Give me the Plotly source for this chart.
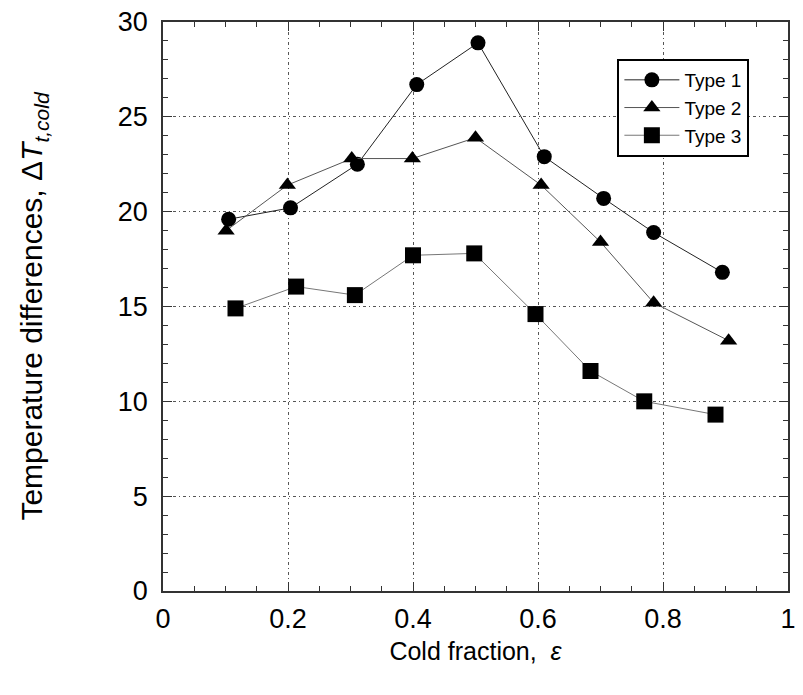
import plotly.graph_objects as go

# Cold fraction (epsilon) and temperature differences for each type
type1_x = [0.105, 0.204, 0.311, 0.406, 0.504, 0.610, 0.705, 0.785, 0.895]
type1_y = [19.6, 20.2, 22.5, 26.7, 28.9, 22.9, 20.7, 18.9, 16.8]

type2_x = [0.101, 0.199, 0.302, 0.399, 0.500, 0.605, 0.700, 0.785, 0.905]
type2_y = [19.0, 21.4, 22.8, 22.8, 23.9, 21.4, 18.4, 15.2, 13.2]

type3_x = [0.116, 0.213, 0.307, 0.400, 0.498, 0.596, 0.684, 0.770, 0.884]
type3_y = [14.9, 16.05, 15.6, 17.7, 17.8, 14.6, 11.6, 10.0, 9.3]

x_ticks = [0, 0.2, 0.4, 0.6, 0.8, 1]
x_tick_text = ["0", "0.2", "0.4", "0.6", "0.8", "1"]
y_ticks = [0, 5, 10, 15, 20, 25, 30]

FONT = "Liberation Sans, Arial, sans-serif"

series = [
    ("Type 1", type1_x, type1_y, "circle", "#222222"),
    ("Type 2", type2_x, type2_y, "triangle-up", "#555555"),
    ("Type 3", type3_x, type3_y, "square", "#777777"),
]

fig = go.Figure()
for name, xs, ys, sym, lc in series:
    fig.add_trace(go.Scatter(
        x=xs, y=ys, name=name, mode="lines+markers",
        line=dict(color=lc, width=1),
        marker=dict(symbol=sym, size=15 if sym != "square" else 16, color="black",
                    line=dict(width=0)),
    ))

grid = dict(showgrid=True, gridcolor="#555555", gridwidth=1, griddash="3px,3px,1px,3px")
axis_common = dict(
    showline=True, linecolor="#333333", linewidth=1.5, mirror="ticks",
    ticks="inside", ticklen=9, tickwidth=1, tickcolor="#333333",
    zeroline=False, tickfont=dict(family=FONT, size=27, color="black"),
    **grid,
)

fig.update_xaxes(
    range=[0, 1], tickvals=x_ticks, ticktext=x_tick_text,
    minor=dict(dtick=0.05, ticks="inside", ticklen=5, tickcolor="#333333", showgrid=False),
    title=dict(text="Cold fraction,  <i>ε</i>", font=dict(family=FONT, size=25, color="black"),
               standoff=9),
    ticklabelstandoff=3,
    **axis_common,
)
fig.update_yaxes(
    range=[0, 30], tickvals=y_ticks,
    minor=dict(dtick=1, ticks="inside", ticklen=5, tickcolor="#333333", showgrid=False),
    title=dict(text="Temperature differences, Δ<i>T</i><sub><i>t,cold</i></sub>",
               font=dict(family=FONT, size=30, color="black"), standoff=66),
    ticklabelstandoff=8,
    **axis_common,
)

fig.update_layout(
    width=803, height=695,
    margin=dict(l=163, r=7, t=21, b=104),
    plot_bgcolor="white", paper_bgcolor="white",
    legend=dict(
        x=0.727, y=0.935, xanchor="left", yanchor="top",
        bgcolor="white", bordercolor="black", borderwidth=2,
        font=dict(family=FONT, size=19, color="black"),
        itemwidth=55, tracegroupgap=0,
    ),
)

fig.write_html("out.html")
